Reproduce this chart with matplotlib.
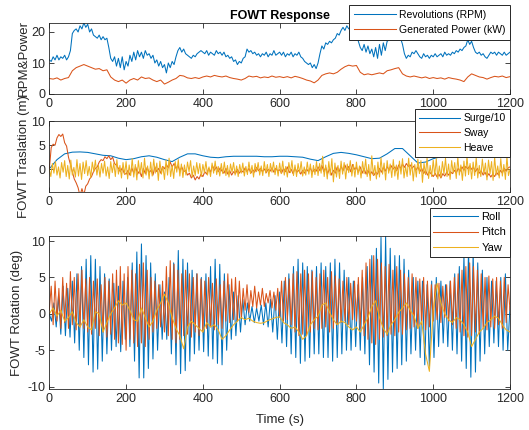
import numpy as np
import matplotlib
matplotlib.use("Agg")
import matplotlib.pyplot as plt

plt.rcParams['font.family'] = ['Liberation Sans', 'DejaVu Sans']
plt.rcParams['axes.unicode_minus'] = False

## Colours (MATLAB default order)
c_blue = '#0072BD'
c_red = '#D95319'
c_yel = '#EDB120'
c_ax = '#262626'

## ---- Top panel: rotor speed (5 s step) and generated power (10 s step)
rpm = [11, 10.5, 12, 11, 12.5, 11, 12, 11.5, 12.5, 11, 12,
       14, 19.5, 20.5, 21, 20, 22, 21, 23, 21.5, 22.5,
       20, 21, 19, 18.5, 18, 19, 17.5, 18.5, 17.5, 18,
       15, 11.5, 10.5, 12, 9, 11.5, 8.5, 12, 7.8, 10.5,
       9, 12.5, 10.5, 13.5, 11, 14, 12, 13.5, 11.5, 14,
       12.5, 13, 11.5, 12.5, 10, 11, 9, 10.5, 8.5, 9.5,
       6.8, 10, 8.5, 10.5, 9.5, 12, 14, 15, 13.5, 14.5,
       13, 12.5, 12, 11.5, 12.5, 12, 13, 13.5, 14, 13.5,
       13, 14, 12.5, 13.5, 13, 12.5, 14, 13, 13.5, 12.5,
       13.5, 12, 12.5, 11.5, 12, 10.5, 11, 9.5, 10.5, 10,
       11.5, 12, 14.5, 13.5, 14, 13, 13.5, 12.5, 13, 12,
       13, 12.5, 13.5, 12, 13, 12.5, 14, 12.5, 13, 13.5,
       12.5, 13.5, 12, 13, 12.5, 13.5, 12, 13, 12.5, 13.5,
       12, 11.5, 10.5, 10, 9.5, 10, 8.5, 9.5, 8.2, 10,
       13, 15.5, 14.5, 16.5, 16, 17, 16.5, 17.5, 18, 19.5,
       19, 20.5, 21.5, 20.5, 22, 21, 21.5, 20.5, 21.5, 19.5,
       17, 15, 14, 16, 13.5, 15.5, 13, 14.5, 12, 15,
       11.5, 16, 12.5, 16.5, 14, 17, 17.5, 18.5, 18, 19,
       18.5, 19.5, 18, 16, 13, 11.5, 12.5, 12, 13.5, 13,
       14, 13, 12, 11.5, 13, 12, 12.5, 11.5, 12.5, 12,
       13, 12, 12.5, 13, 12, 13.5, 12.5, 13, 12.5, 13.5,
       13, 14, 13.5, 14.5, 14, 15, 15.5, 17.5, 16, 17,
       15, 13.5, 13, 13.5, 12.5, 13, 12, 11.5, 12.5, 13.5,
       13, 13.5, 12.5, 13.5, 13, 12.5, 13.5, 12.5, 13, 13.5]
power = [5, 4.8, 5.2, 4.5, 5, 5.3,
         7.5, 8.5, 9, 9.5, 9,
         8.5, 8, 8.2, 7.5, 7.8,
         5.5, 4.5, 4, 4.5, 3.5,
         4.5, 5, 4.5, 5.5, 5,
         5.2, 4.5, 4, 4.5, 3.2,
         3.8, 4.5, 5, 6, 5.8,
         5.2, 5, 5.3, 5, 5.5,
         5.8, 5.5, 6, 5.7, 5.5,
         5.8, 5.3, 5, 4.8, 4.5,
         5, 5.8, 5.5, 5.7, 5.2,
         5.5, 5.3, 5.8, 5.4, 5.6,
         5.3, 5.6, 5.2, 5.7, 5.4,
         5, 4.5, 4.2, 3.6, 4.5,
         6, 6.5, 6.8, 6.5, 7,
         8, 8.8, 9.3, 9, 9.2,
         7, 6.2, 6.5, 6.2, 6.5,
         6.8, 6.5, 7.5, 7.8, 8.2,
         8.5, 6.5, 5.8, 5.5, 5.8,
         5.5, 5.2, 5.5, 5, 5.3,
         5, 5.2, 4.8, 5.3, 5,
         4.8, 4.5, 4, 5.5, 6.5,
         6, 5.5, 5.3, 4.8, 5.3,
         5.7, 5.5, 5.8, 5.3, 5.6]

## ---- Middle panel: surge/10 (20 s), sway (5 s), heave (4 s)
surge10 = [0.1, 2.0, 3.2, 3.55, 3.6, 3.5, 3.2, 2.9, 2.8, 2.3,
           2.0, 2.2, 2.6, 2.8, 2.5, 2.0, 1.6, 2.5, 3.2, 3.2,
           2.8, 2.5, 2.4, 2.6, 2.7, 2.7, 2.7, 2.7, 2.6, 2.6,
           2.7, 2.7, 2.6, 2.5, 2.1, 1.8, 2.6, 3.3, 3.5, 3.3,
           3.0, 2.6, 2.2, 2.3, 3.2, 4.3, 4.3, 2.8, 1.3, 1.5,
           2.2, 2.6, 2.8, 2.8, 2.7, 2.6, 2.6, 2.6, 2.5, 2.5,
           2.6]
sway = [0, 4.5, 5.2, 5.0, 6.5, 7.2, 6.8, 7.3, 5.5, 4.8,
        2.5, 1.0, -0.5, -2.0, -2.8, -3.8, -5.5, -4.0, -5.3, -3.5,
        -3.0, -2.0, -1.5, -0.5, 0.2, 0.5, 1.5, 2.0, 1.8, 2.6,
        2.2, 2.8, 2.0, 2.5, 1.2, 0.8, 0.2, -0.5, 0.3, -0.8,
        -1.0,
        -0.2, -1.2, 0.3, -0.8, 0.5, -1.0, -0.3, -1.5, 0.2, -0.9,
        0.4, -0.7, -0.2, -1.2, 0.5, -0.5, 0.2, -0.8, 0.6, 0.1,
        1.0, 0.3, 1.5, 0.5, 1.2, 0.2, 0.8, -0.3, 0.5, -0.5,
        -0.2, -1.2, -0.8, -1.8, -1.2, -2.2, -1.5, -2.0, -1.0, -1.5,
        -0.5, -1.0, 0.2, -0.6, 0.8, -0.2, 0.5, -0.5, 0.3, -0.4,
        -0.8, 0.2, -1.0, -0.3, -1.2, -0.5, -0.9, 0.0, -0.8, -0.2,
        -0.6, 0.3, -0.5, 0.2, -0.8, -0.1, -0.6, 0.4, -0.3, 0.2,
        -0.5, 0.1, -0.7, 0.0, -0.4, 0.3, -0.6, 0.2, -0.3, -0.1,
        -0.8, 0.2, -0.5, 0.5, -0.7, 0.0, -0.9, 0.3, -0.6, -0.2,
        -1.0, -0.2, -0.8, 0.1, -0.5, 0.3, -0.7, 0.0, -0.4, 0.5,
        -0.3, 0.8, -0.5, 0.4, -0.9, 0.2, -1.2, -0.2, -0.8, 0.5,
        -0.5, 0.7, -0.3, 0.9, -0.2, 0.6, -0.5, 1.0, 0.0, 0.4,
        -0.6, 0.5, -0.8, 0.2, -1.0, -0.2, -1.2, -0.5, -1.3, -0.6,
        -1.0, 0.2, -0.6, 0.4, -0.4, 0.6, -0.2, 0.8, 0.0, 0.5,
        -0.3, 0.9, 0.2, 1.1, 0.4, 1.2, 0.6, 0.9, 0.2, 0.7,
        -0.2, 0.5, -0.5, 0.2, -0.9, -0.2, -1.2, -0.5, -1.0, -1.5,
        -0.8, -1.6, -1.0, -1.8, -0.9, -1.4, -0.6, -1.2, -0.5, -0.9,
        -0.2, -0.8, 0.2, -0.4, 0.5, -0.2, 0.6, 0.1, 0.7, 0.0,
        0.4, -0.5, 0.2, -0.8, -0.3, -1.2, -0.6, -1.5, -0.9, -1.6,
        -1.0, -1.5, -0.6, -1.2, -0.2, -0.8, 0.2, -0.4, 0.3, 0.5]
heave = [0, -1.5, 1.2, -0.8, 1.6, -1.2, 0.5, -1.8, 1.4, -0.6, 1.8, -1.5, 0.8, -2.0, 1.9, -1.2, 0.4, -1.6, 2.0, -1.4, 1.2, -2.1, 1.5, -0.9, 1.8,
         -1.3, 0.6, -1.7, 1.5, -0.5, 1.9, -1.2, 0.9, -1.6, 1.2, -0.8, 1.7, -1.4, 0.5, -1.9, 1.6, -0.7, 1.3, -1.5, 2.0, -1.0, 0.8, -1.8, 1.4, -1.1,
         1.6, -2.0, 0.9, -1.3, 2.2, -1.6, 1.0, -2.2, 1.8, -0.9, 1.4, -1.8, 2.3, -1.2, 0.7, -2.0, 1.5, -1.4, 2.1, -0.8, 1.3, -2.3, 1.7, -1.0, 0.6,
         -2.1, 1.9, -1.2, 2.3, -1.5, 0.8, -1.9, 1.6, -0.6, 2.0, -1.4, 1.1, -1.7, 0.9, -1.2, 1.5, -0.5, 1.8, -1.6, 0.7, -1.3, 1.4, -0.9, 1.2, -1.5,
         1.0, -0.7, 1.6, -1.2, 0.5, -1.5, 1.3, -0.8, 1.7, -1.1, 0.6, -1.4, 1.2, -0.9, 1.5, -1.3, 0.8, -1.6, 1.1, -0.6, 1.4, -1.2, 0.7, -1.5, 1.0,
         -0.8, 1.3, -1.4, 0.6, -1.1, 1.5, -0.9, 0.8, -1.6, 1.2, -0.5, 1.4, -1.2, 0.7, -1.3, 1.6, -0.8, 1.0, -1.5, 1.2, -0.6, 1.5, -1.1, 0.8, -1.4,
         1.3, -0.9, 1.7, -1.2, 0.6, -1.6, 1.4, -0.7, 1.8, -1.3, 0.9, -1.5, 1.2, -0.8, 1.6, -1.4, 0.5, -1.2, 1.5, -1.0, 1.1, -1.7, 0.8, -1.1, 1.6,
         -1.3, 1.2, -0.8, 2.7, -1.5, 0.9, -2.0, 1.6, -1.2, 2.2, -2.6, 1.3, -1.6, 0.8, -1.9, 1.7, -1.0, 1.4, -2.0, 1.1, -0.7, 1.8, -1.4, 1.0, -1.6,
         1.5, -1.1, 0.7, -1.8, 1.6, -0.9, 2.1, -1.5, 1.0, -2.3, 2.8, -1.2, 0.8, -2.0, 1.5, -1.6, 2.4, -1.0, 1.3, -2.2, 1.8, -0.8, 1.1, -1.7, 2.0,
         -1.4, 0.9, -2.1, 1.7, -1.0, 2.2, -1.8, 0.6, -1.5, 2.3, -1.2, 1.4, -2.4, 1.0, -1.6, 2.1, -0.9, 1.8, -2.7, 1.3, -1.1, 2.4, -1.9, 0.8, -1.5,
         1.9, -1.3, 2.2, -2.0, 0.7, -1.7, 1.6, -1.0, 2.3, -1.5, 1.1, -2.1, 1.8, -0.8, 1.4, -1.9, 2.5, -1.2, 0.9, -2.3, 1.7, -1.4, 2.6, -1.1, 1.2,
         -2.0, 1.5, -1.3, 2.4, -1.8, 0.8, -1.5, 2.1, -1.0, 1.3, -2.2, 1.9, -0.9, 1.6, -2.3, 2.5, -1.2, 0.7, -1.8, 2.2, -1.4, 1.0, -2.1, 2.6, -1.3,
         0.0]

## ---- Bottom panel: roll (6 s), pitch (5 s), yaw (10 s)
roll = [0.0, -1.0, 1.5, -1.8, 2.5, -2.8, 3.8, -3.0, 3.5, -3.2, 4.5, -4.0, 5.5, -5.0, 6.5, -6.0, 7.5, -7.0, 8.0, -8.0,
        7.5, -7.6, 6.5, -6.5, 5.5, -5.5, 4.8, -5.0, 4.2, -4.5, 3.8, -5.2, 4.5, -3.5, 5.0, -4.5, 7.0, -6.5, 8.5, -8.8,
        9.6, -8.8, 8.0, -7.5, 7.0, -6.2, 5.5, -5.0, 4.0, -3.5, 3.0, -3.5, 5.0, -5.5, 7.0, -7.0, 8.7, -8.2, 7.5, -7.8,
        7.0, -6.5, 6.0, -5.5, 5.5, -5.0, 5.0, -5.2, 5.5, -5.8, 6.5, -6.2, 7.5, -6.8, 6.8, -7.0, 5.5, -5.0, 4.0, -3.5,
        3.0, -3.0, 2.5, -2.5, 2.0, -1.5, 1.5, -1.0, 1.0, -1.2, 0.8, -1.0, 1.2, -1.5, 1.5, -1.8, 2.0, -2.5, 2.5, -3.5,
        3.0, -4.0, 4.5, -4.5, 5.5, -5.5, 6.5, -6.0, 7.5, -6.8, 7.0, -6.5, 6.5, -6.0, 6.0, -5.5, 6.5, -5.5, 7.0, -6.0,
        6.5, -6.0, 7.0, -6.5, 7.5, -6.0, 7.0, -5.5, 6.0, -5.0, 5.0, -5.0, 4.5, -4.5, 4.0, -5.0, 5.0, -5.5, 6.5, -7.0,
        8.0, -8.0, 9.0, -9.5, 10.5, -10.3, 10.7, -9.0, 9.0, -8.0, 8.0, -7.5, 8.0, -7.0, 7.5, -6.5, 6.0, -5.5, 5.0, -5.0,
        4.5, -6.0, 4.5, -7.0, 4.0, -7.2, 4.5, -6.0, 5.0, -4.5, 4.5, -4.0, 4.0, -4.5, 4.5, -5.0, 5.5, -5.5, 6.5, -6.5,
        8.0, -7.5, 9.0, -8.7, 8.5, -8.0, 7.0, -6.5, 6.0, -5.5, 5.0, -4.5, 4.5, -4.0, 4.5, -4.5, 5.0, -5.0, 5.5, -5.0,
        1.0]
pitch = [0.5, 3.8, -1.5, 4.5, -1.0, 3.5, -2.0, 5.0, -1.2, 4.2, -2.0, 5.8, -1.5, 5.0, -2.2, 5.5, -1.8, 6.0, -2.0, 4.8,
         -2.5, 5.0, -2.8, 4.5, -2.0, 4.8, -3.0, 4.0, -2.5, 5.0, -3.2, 4.5, -2.8, 5.5, -3.5, 6.0, -4.0, 6.5, -4.2, 5.5,
         -5.0, 6.5, -3.5, 6.0, -4.0, 5.5, -4.5, 6.8, -4.0, 7.0, -4.5, 6.0, -3.5, 5.0, -2.5, 4.5, -2.0, 4.0, -1.8, 4.5,
         -2.5, 6.5, -3.0, 7.3, -3.5, 6.8, -4.0, 6.0, -3.5, 5.5, -3.0, 6.0, -2.8, 5.5, -3.2, 5.0, -2.5, 5.5, -3.0, 4.8,
         -2.5, 4.5, -2.0, 5.0, -1.8, 4.2, -2.2, 4.8, -1.5, 4.0, -2.0, 4.5, -1.0, 5.5, -1.2, 4.8, -0.8, 5.0, -1.0, 4.5,
         -0.5, 3.5, 0.5, 4.0, 0.2, 3.2, 1.0, 3.8, 0.8, 3.0, 1.2, 3.5, 1.0, 2.8, 1.5, 3.2, 0.8, 3.0, 0.5, 3.5,
         -0.5, 4.5, -1.0, 5.0, -0.8, 4.8, -1.5, 5.5, -2.5, 5.8, -3.0, 5.5, -2.8, 6.0, -3.0, 5.5, -2.5, 5.8, -2.0, 5.0,
         -2.2, 5.5, -2.0, 6.0, -1.8, 5.0, -2.5, 5.8, -2.0, 5.2, -1.5, 4.8, -1.2, 4.5, -1.0, 5.0, -1.5, 4.2, -0.8, 4.5,
         -1.0, 5.0, -2.0, 6.0, -3.0, 7.0, -3.5, 7.5, -4.0, 8.0, -4.2, 7.5, -3.5, 7.0, -3.2, 6.5, -3.0, 6.8, -2.8, 6.0,
         -3.0, 6.5, -2.5, 6.0, -2.8, 5.5, -2.2, 5.0, -2.0, 5.5, -1.8, 5.0, -2.0, 4.8, -1.5, 5.0, -2.2, 4.5, -1.8, 4.0,
         -1.0, 4.0, -0.8, 4.2, -1.2, 3.8, -0.5, 4.0, -1.0, 4.5, -1.5, 5.0, -2.0, 5.5, -2.5, 6.0, -3.0, 6.5, -3.2, 7.0,
         -3.0, 6.5, -2.5, 6.0, -2.8, 5.5, -2.0, 5.0, -2.2, 5.2, -1.8, 4.8, -2.0, 5.0, -1.5, 4.5, -2.0, 5.0, -1.2, 4.0,
         0.5]
yaw = [0.0, 0.8, -0.3, 0.5, -1.0, -0.5, 0.3, -1.2, -1.8, -0.8,
       -1.8, -2.2, 0.3, 0.0, -2.5, -1.2, 0.0, 0.8, 1.8, 1.2,
       1.5, 0.5, -0.8, -1.0, 0.8, -0.5, -1.8, -1.0, 0.5, 1.5,
       2.7, 1.5, -0.5, -2.0, -3.0, -4.8, -1.8, -1.0, -1.5, -2.0,
       -2.5, -1.2, -1.8, -1.5, -2.2, -3.5, -3.0, -2.2, -1.5, -1.0,
       -0.5, -0.8, -0.6, -1.0, -1.2, -1.3, -1.2, -0.9, -0.7, -0.5,
       -0.4, -1.2, -1.5, -2.0, -1.8, -2.5, -3.5, -3.0, -1.5, -0.8,
       -0.3, 1.2, 1.5, 0.2, -0.8, -1.5, -1.0, -1.2, -1.8, -2.2,
       -1.8, -2.5, -1.5, -0.5, 1.0, 1.8, -0.5, -2.0, -2.8, -1.5,
       -0.8, 0.2, 0.8, 1.5, 0.5, -0.3, -2.0, -1.0, -5.5, -7.9,
       0.5, 4.2, 1.5, 0.0, -0.8, -1.2, -0.5, -0.8, -1.5, -2.5,
       -4.5, -3.5, -2.5, -2.0, -1.2, -0.8, -0.3, -0.6, -1.5, -2.2,
       -2.5]

t_rpm = np.arange(len(rpm)) * 5.0
t_pow = np.arange(len(power)) * 10.0
t_surge = np.arange(len(surge10)) * 20.0
t_sway = np.arange(len(sway)) * 5.0
t_heave = np.arange(len(heave)) * 4.0
t_roll = np.arange(len(roll)) * 6.0
t_pitch = np.arange(len(pitch)) * 5.0
t_yaw = np.arange(len(yaw)) * 10.0

W, H = 529, 430
fig = plt.figure(figsize=(W/100, H/100), dpi=100)

x0, x1 = 49.3/W, 510/W
def add_ax(top_px, bot_px):
   return fig.add_axes([x0, 1 - bot_px/H, x1 - x0, (bot_px - top_px)/H])

ax1 = add_ax(22.7, 94.0)
ax2 = add_ax(121.0, 192.3)
ax3 = add_ax(236.0, 389.0)

lw = 0.75
ax1.plot(t_rpm, rpm, color=c_blue, lw=lw, label='Revolutions (RPM)')
ax1.plot(t_pow, power, color=c_red, lw=lw, label='Generated Power (kW)')

ax2.plot(t_surge, surge10, color=c_blue, lw=lw, label='Surge/10')
ax2.plot(t_sway, sway, color=c_red, lw=lw, label='Sway')
ax2.plot(t_heave, heave, color=c_yel, lw=lw, label='Heave')

ax3.plot(t_roll, roll, color=c_blue, lw=lw, label='Roll')
ax3.plot(t_pitch, pitch, color=c_red, lw=lw, label='Pitch')
ax3.plot(t_yaw, yaw, color=c_yel, lw=lw, label='Yaw')

ax1.set_ylim(0, 23)
ax1.set_yticks([0, 10, 20])
ax2.set_ylim(-4.76, 10)
ax2.set_yticks([0, 5, 10])
ax3.set_ylim(-10.32, 10.69)
ax3.set_yticks([-10, -5, 0, 5, 10])

for ax in (ax1, ax2, ax3):
   ax.set_xlim(0, 1200)
   ax.set_xticks(np.arange(0, 1201, 200))
   ax.tick_params(direction='in', top=True, right=True, length=3.5, width=0.6,
                  labelsize=9, colors=c_ax, pad=3)
   for s in ax.spines.values():
      s.set_color(c_ax)
      s.set_linewidth(0.6)

## y labels sit next to each panel's tick labels (pixel x of the label's right edge)
def px_to_ax(px):
   return (px - 49.3) / (510 - 49.3)
ax1.set_ylabel('RPM&Power', fontsize=9.5, color=c_ax)
ax2.set_ylabel('FOWT Traslation (m)', fontsize=9.5, color=c_ax)
ax3.set_ylabel('FOWT Rotation (deg)', fontsize=9.5, color=c_ax)
ax1.yaxis.set_label_coords(px_to_ax(30), 0.5)
ax2.yaxis.set_label_coords(px_to_ax(30), 0.5)
ax3.yaxis.set_label_coords(px_to_ax(23), 0.5)
ax3.set_xlabel('Time (s)', fontsize=9.5, color=c_ax, labelpad=6)
ax1.set_title('FOWT Response', fontsize=9, fontweight='bold', color='black', pad=3)

## Legends placed in figure pixels like the MATLAB figure
def place_legend(ax, top_px, fs, ls, bp):
   leg = ax.legend(loc='upper right', bbox_to_anchor=(x1, 1 - top_px/H),
                   bbox_transform=fig.transFigure, fontsize=fs, frameon=True,
                   fancybox=False, borderaxespad=0, handlelength=4.0,
                   labelspacing=ls, borderpad=bp, handletextpad=0.3)
   fr = leg.get_frame()
   fr.set_edgecolor(c_ax)
   fr.set_linewidth(0.7)
   fr.set_alpha(1)
   leg.set_zorder(10)
   return leg

place_legend(ax1, 5, 7.5, 0.5, 0.45)
place_legend(ax2, 109, 7.5, 0.45, 0.4)
place_legend(ax3, 208, 8, 0.5, 0.35)

fig.savefig('out.png', dpi=100)
